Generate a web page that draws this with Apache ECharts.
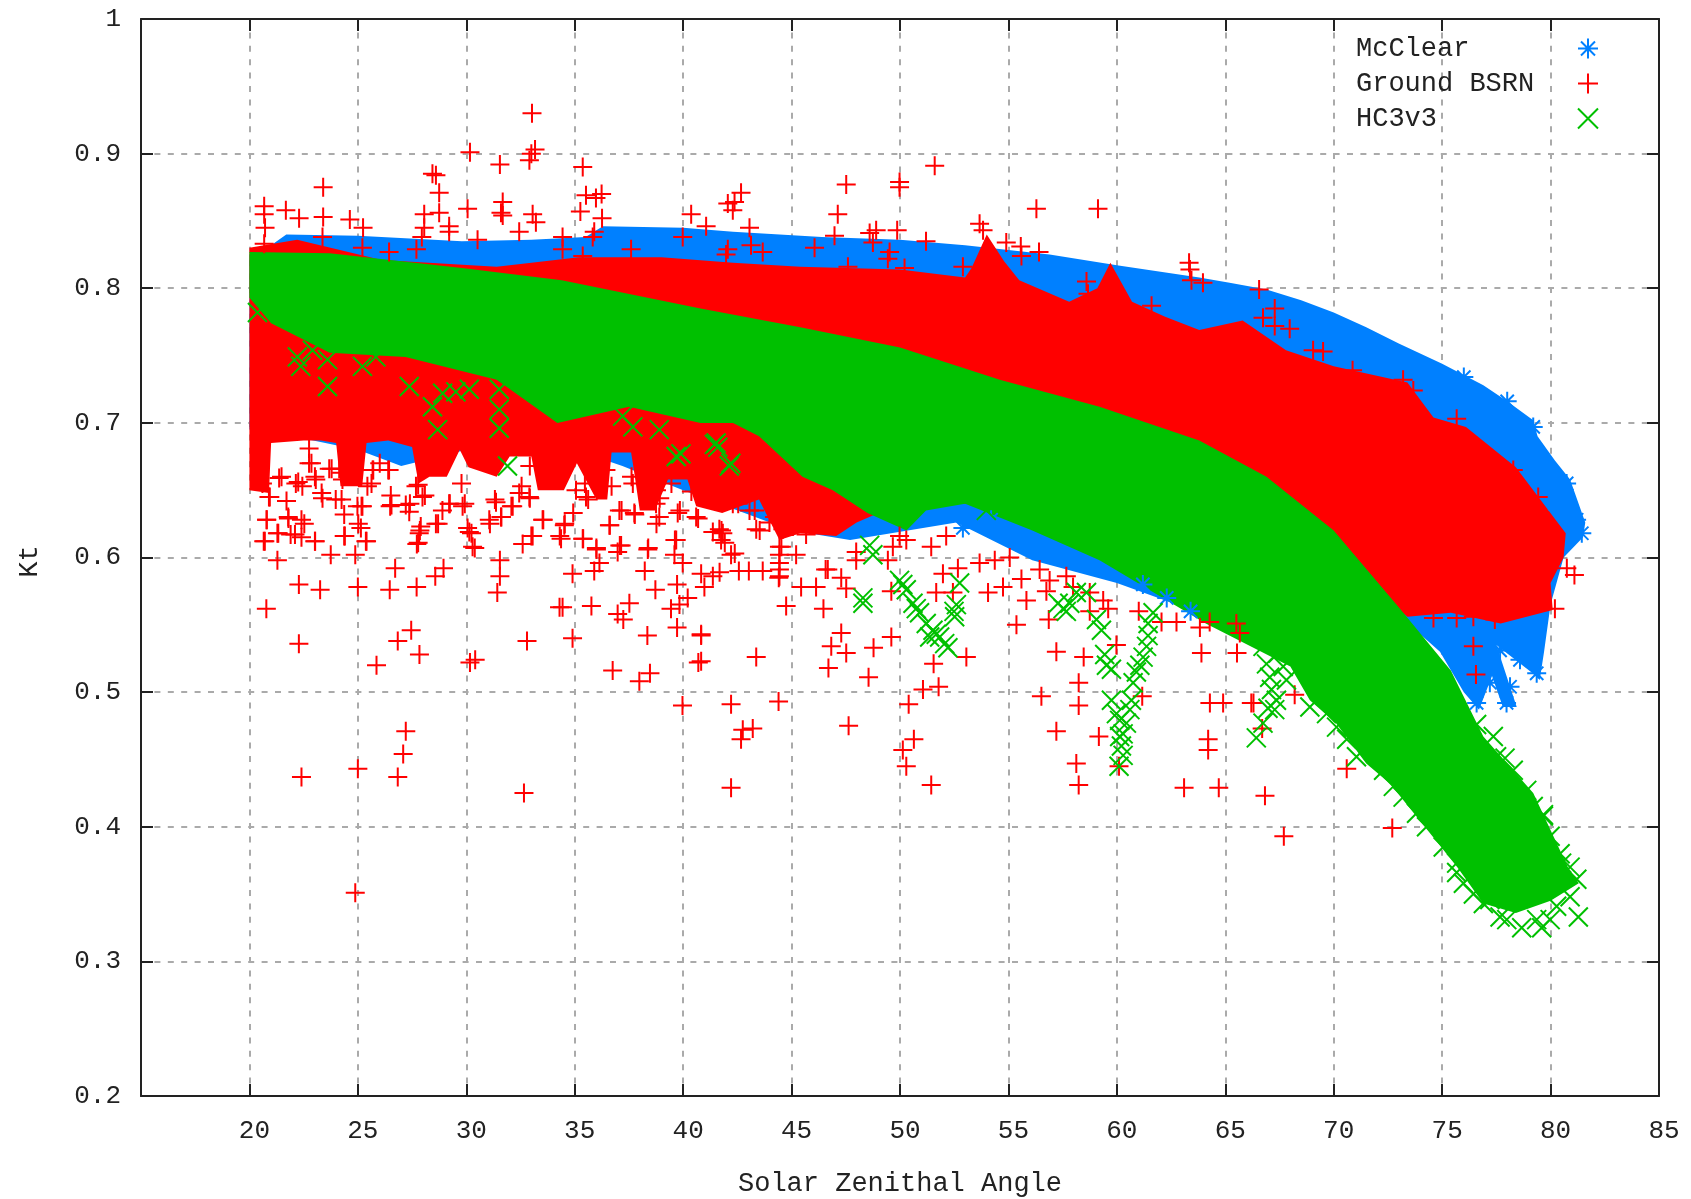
<!DOCTYPE html>
<html>
<head>
<meta charset="utf-8">
<title>Kt vs Solar Zenithal Angle</title>
<style>html,body{margin:0;padding:0;background:#fff}#chart{width:1691px;height:1199px}</style>
<script src="https://cdn.jsdelivr.net/npm/echarts@6/dist/echarts.min.js"></script>
</head>
<body>
<div id="chart"></div>
<script>
// outlines of the solid masses: [angle, kt]
var mcclearEdge = [[20,.825],[21,.832],[21.7,.84],[25,.839],[29.8,.835],[33,.836],[35.5,.838],[36.3,.846],[40,.845],[42.3,.842],
    [46.4,.838],[50,.836],[53,.832],[56.9,.825],[60,.817],[63.8,.808],[65.2,.804],[66.9,.799],[68.5,.791],[70,.782],[71.5,.771],[73,.759],[75,.744],[76.9,.728],
    [78,.716],[79.2,.702],[79.4,.69],[80.2,.672],[80.9,.658],[81.6,.626],[81.5,.615],[80.6,.6],[80,.565],[79.7,.53],[79.5,.509],[79.1,.515],[77.5,.535],
    [78.44,.489],[77.8,.489],[77.3,.512],[76.7,.487],[76,.5],[74.9,.53],[70,.6],[63.8,.559],[60,.581],[56.1,.598],[52.6,.626],
    [47.7,.613],[45,.62],[40,.65],[37.2,.668],[35,.68],[30,.68],[27,.668],[25,.68],[22,.69],[20,.695]];
var groundEdge = [[20,.83],[22.2,.836],[26.1,.821],[31.4,.816],[35.2,.823],[39,.823],[42.3,.819],[45.4,.816],[50,.814],[53,.808],
    [53.3,.815],[54,.84],[54.8,.82],[55.5,.806],[57.8,.79],[59.1,.8],[59.7,.819],[60.7,.79],[62.2,.779],[63.8,.769],[65.8,.776],
    [67.8,.754],[70,.742],[73.4,.73],[74.6,.704],[76.1,.697],[78.4,.667],[80.7,.618],[80.6,.6],[80,.581],[80.1,.561],[77.7,.551],
    [75.4,.559],[73.4,.556],[70,.6],[60,.64],[50,.64],[48,.626],[47.06,.616],[45.4,.618],[44.44,.613],[43.5,.643],[41.8,.633],
    [40.6,.638],[40.2,.658],[39.3,.658],[38.7,.635],[38,.635],[37.7,.668],[37.6,.678],[36.7,.678],[36.5,.643],[36,.643],[35.1,.67],[34.5,.65],[33.3,.65],
    [33,.675],[32,.675],[31.4,.66],[30.1,.667],[29.7,.68],[29.1,.66],[28.3,.66],[27.8,.655],[27.5,.682],[26.4,.687],[25.4,.685],
    [25.2,.653],[24.2,.653],[24,.685],[23.3,.687],[22.5,.687],[21,.685],[20.9,.648],[20,.65]];
var hc3Edge = [[20,.827],[23.7,.826],[29.8,.815],[34.4,.806],[40.8,.785],[45.4,.771],[50,.756],[54.6,.732],[59.2,.712],[63.8,.687],
    [66.9,.66],[70,.62],[73,.563],[75.4,.516],[76.9,.467],[79.2,.425],[80.8,.37],[81.3,.358],[80,.345],[78.4,.336],[76.9,.343],
    [75.7,.37],[74.6,.392],[72.6,.432],[71.5,.447],[70.1,.477],[68.9,.494],[68,.519],[64.1,.551],[59.2,.598],[56.1,.62],[53,.64],
    [51.2,.635],[50.3,.62],[48.5,.633],[46.9,.65],[45.5,.66],[43.5,.69],[42.3,.7],[40.8,.7],[37.5,.712],[34.2,.7],[31.4,.732],
    [27.2,.749],[23.7,.752],[21,.774],[20,.793]];

// single marks standing out of the masses
var mcclearPoints = [[81.44,.618],[81.2,.628],[80.74,.655],[79.2,.697],[79.36,.514],[77.97,.492],[76.59,.492],[77.67,.531],[78.59,.524],
    [79.2,.549],[77.2,.507],[78.13,.504],[80.2,.64],[78,.716],[76,.734],[52.9,.622],[54.2,.628],[55.6,.61],[57.4,.6],[61.2,.58],[62.3,.57],[63.4,.56]];
var groundPoints = [[20.78,.562],[22.28,.58],[22.28,.536],[23.26,.576],[25,.578],[26.47,.576],[27.71,.578],[26.72,.592],[28.57,.586],[28.95,.592],
    [21.29,.598],[23.75,.602],[24.88,.602],[20.66,.612],[21.29,.618],[21.9,.617],[22.4,.615],[23.03,.612],[24.37,.616],[25.37,.612],
    [25.14,.622],[20.8,.628],[21.8,.629],[22.4,.628],[31.55,.598],[31.55,.586],[31.43,.574],[32.8,.538],[34.9,.588],[34.9,.54],
    [34.44,.563],[34.3,.563],[35.77,.564],[36.98,.558],[37.52,.566],[37.24,.554],[38.35,.542],[39.72,.548],[40.83,.542],[40.7,.522],
    [36.75,.516],[37.98,.508],[38.47,.514],[39.97,.49],[38.72,.576],[39.72,.58],[38.23,.59],[39.44,.562],[39.83,.565],[40.21,.57],
    [40.83,.588],[40.98,.578],[41.37,.586],[41.68,.589],[39.98,.596],[39.6,.602],[39.68,.613],[35.9,.59],[36.14,.596],[35.37,.614],
    [36,.606],[37.14,.609],[36.98,.604],[38.37,.606],[34.37,.614],[33.06,.616],[32.6,.61],[33.52,.628],[36.6,.624],[34.52,.624],
    [30.29,.608],[30.14,.619],[27.72,.61],[27.83,.618],[27.9,.623],[28.6,.625],[30.06,.622],[27.21,.471],[27.09,.454],[26.84,.437],
    [22.4,.437],[25,.443],[24.88,.351],[32.66,.425],[26.84,.538],[27.46,.546],[27.84,.528],[25.86,.52],[30.17,.522],[30.41,.524],
    [33.03,.93],[30.17,.901],[31.55,.892],[33.17,.903],[32.91,.895],[33,.9],[35.37,.89],[28.44,.885],[28.6,.884],[23.4,.875],
    [28.75,.871],[31.68,.864],[35.52,.869],[36.24,.87],[35.98,.867],[20.68,.861],[21.68,.858],[30.06,.859],[28.75,.856],[31.6,.856],
    [31.68,.854],[33.06,.855],[35.26,.857],[40.37,.855],[20.68,.855],[22.29,.852],[23.4,.853],[24.63,.851],[28.06,.855],[33.21,.849],
    [36.26,.852],[25.24,.845],[20.72,.845],[29.21,.846],[29.21,.842],[28.06,.845],[27.95,.838],[32.44,.842],[41.06,.846],[39.98,.838],
    [35.83,.838],[34.44,.838],[23.37,.838],[20.68,.833],[25.21,.83],[26.44,.827],[27.7,.829],[30.52,.836],[35.37,.824],[37.6,.829],
    [34.44,.829],[35.9,.842],[42.37,.864],[42.67,.871],[42.06,.863],[42.29,.858],[47.52,.877],[49.98,.879],[49.98,.875],[51.6,.891],
    [47.13,.855],[43.06,.845],[48.6,.841],[48.9,.843],[49.87,.843],[46.98,.839],[51.2,.835],[53.67,.848],[53.83,.843],[54.9,.834],
    [55.57,.831],[56.41,.827],[55.6,.824],[56.29,.859],[59.13,.859],[63.33,.819],[63.44,.806],[63.37,.814],[42.06,.829],[43.13,.832],
    [41.98,.825],[43.67,.827],[46.06,.83],[49.52,.827],[49.44,.822],[47.6,.816],[48.75,.834],[50.21,.815],[58.6,.805],[58.67,.796],
    [61.6,.787],[52.9,.816],[42.21,.491],[44.4,.493],[47.63,.475],[42.75,.472],[42.67,.465],[43.21,.473],[42.21,.429],[43.37,.526],
    [40.83,.543],[40.83,.523],[44.75,.564],[42.57,.59],[43.03,.59],[43.67,.59],[44.41,.585],[45.21,.602],[42.21,.602],[41.67,.621],
    [41.75,.613],[43.37,.621],[45.44,.578],[46.13,.578],[46.47,.562],[46.57,.591],[46.67,.591],[47.29,.585],[47.52,.577],[47.29,.544],
    [46.83,.534],[47.52,.529],[46.7,.518],[48.78,.533],[48.55,.511],[49.6,.541],[49.6,.575],[50.4,.491],[51.06,.502],[51.78,.504],
    [50.64,.465],[50.13,.457],[50.29,.445],[51.44,.431],[51.55,.521],[53.06,.526],[51.67,.574],[52.44,.574],[52.67,.592],[53.67,.596],
    [51.98,.588],[55.06,.6],[54.06,.574],[54.75,.578],[55.6,.584],[55.83,.568],[55.37,.55],[56.75,.575],[56.86,.554],[57.21,.53],
    [58.47,.526],[58.24,.507],[56.52,.497],[58.24,.49],[57.21,.471],[59.17,.467],[58.13,.447],[58.24,.431],[60.1,.445],[59.98,.535],
    [61.17,.497],[63.1,.429],[63.9,.529],[63.83,.548],[62.75,.552],[62.06,.552],[61.01,.56],[59.6,.562],[58.75,.56],[64.7,.429],
    [64.29,.492],[64.21,.465],[64.21,.457],[64.9,.492],[66.83,.423],[67.7,.393],[70.6,.443],[72.7,.399],[66.3,.492],[66.7,.473],
    [81.1,.587],[80.75,.592],[76.44,.534],[76.56,.513],[64.28,.552],[65.51,.551],[65.54,.529],[65.67,.544],[68.2,.498],[66.2,.492],
    [66.56,.799],[67.28,.785],[66.74,.778],[67.97,.77],[67.28,.772],[69.05,.754],[69.51,.753],[70.87,.739],[73.2,.732],[75.67,.703],
    [73.67,.724],[79.43,.645],[78.28,.665],[74.6,.555],[76.44,.556],[77.43,.554],[75.67,.555],[80.2,.562],[63.97,.804],
    [22.75,.67],[22.44,.653],[23.06,.658],[23.37,.644],[23.98,.643],[24.37,.632],[24.98,.638],[25.44,.653],[25.68,.665],[26.44,.665],
    [26.52,.646],[26.49,.638],[27.21,.639],[27.98,.645],[27.37,.634],[27.68,.653],[29.21,.64],[29.83,.638],[28.9,.635],[31.37,.641],
    [32.14,.638],[31.6,.63],[31.06,.628],[32.44,.648],[32.91,.645],[35.06,.65],[35.52,.645],[36.44,.665],[37.68,.655],[37.06,.635],
    [37.75,.633],[38.75,.64],[38.9,.63],[39.75,.633],[40.6,.63],[41.83,.618],[41.37,.619],[41.83,.643],[20.9,.645],[21.37,.659],
    [22.14,.655],[20.6,.655],[24.29,.658],[23.68,.666],[24.14,.666],[22.75,.681],[25.21,.638],[44.44,.602],[44.44,.608],[44.44,.596],
    [44.44,.591],[44.44,.586],[44.21,.63],[44.83,.63],[45.06,.623],[43.98,.626],[44.6,.621],[45.67,.617],[46.29,.635],[42.29,.64],
    [43.06,.635],[47.98,.598],[47.98,.604],[49.44,.598],[49.98,.616],[50.29,.613],[49.67,.608],[52.13,.616],[51.44,.608],[54.37,.598],
    [56.44,.591],[56.9,.583],[57.98,.578],[58.75,.574],[59.37,.568],[57.67,.586],
    [21.48,.66],[22.25,.656],[22.86,.67],[23.02,.66],[23.33,.648],[23.79,.666],[24.25,.663],[24.25,.643],[24.71,.675],[25.17,.638],
    [25.02,.625],[25.71,.665],[26.4,.665],[26.01,.67],[25.63,.655],[26.55,.639],[27.4,.64],[27.78,.654],[28.09,.646],[27.86,.62],
    [27.78,.611],[28.7,.625],[29.24,.64],[29.93,.64],[29.78,.655],[30.24,.618],[30.39,.607],[31.32,.643],[31.09,.625],[31.62,.63],
    [32.08,.638],[32.55,.653],[20.94,.645],[21.71,.642],[20.79,.628],[21.79,.63],[21.33,.618],[20.71,.612],[22.1,.617],[22.53,.625],
    [23.02,.612],[24.4,.616],[25.4,.612],[32.93,.644],[33.55,.628],[33,.616],[34.31,.616],[34.54,.625],[35.39,.614],[34.93,.633],
    [35.62,.643],[36.62,.624],[36,.607],[37.08,.609],[37.16,.635],[37.77,.632],[38.39,.607],[38.77,.625],[38.92,.644],[39.62,.613],
    [39.85,.635],[40.69,.629],[41.77,.62],[41.92,.611],[42.54,.64],[43.3,.635],[43.53,.62],[44.53,.642],[44.84,.623],[44.53,.608],
    [43.46,.651],[40.38,.649],[41.08,.65],[42.38,.603],[39.46,.655],[38.77,.65],[35.47,.655],[37.62,.66],[36.7,.653],[32.93,.668]];
var hc3Points = [[48.29,.566],[48.29,.57],[48.75,.602],[48.6,.609],[49.98,.583],[50.29,.576],[50.6,.566],[50.9,.559],[51.21,.551],[51.52,.546],
    [51.83,.541],[52.06,.536],[52.21,.533],[51.67,.543],[51.37,.541],[50.75,.562],[50.13,.58],[52.49,.56],[52.52,.556],[52.6,.565],
    [52.75,.581],[57.52,.562],[57.67,.56],[57.83,.566],[57.29,.566],[58.6,.574],[58.13,.574],[59.29,.546],[59.06,.554],[59.44,.528],
    [59.75,.517],[59.52,.52],[59.75,.494],[59.98,.484],[60.13,.479],[60.13,.467],[60.21,.46],[60.29,.453],[60.1,.445],[61.44,.551],
    [61.44,.542],[61.37,.534],[61.21,.526],[61.06,.52],[60.9,.515],[60.75,.507],[60.67,.494],[60.6,.487],[60.44,.477],[60.29,.469],
    [61.67,.559],[66.74,.534],[66.9,.521],[67.05,.511],[67.13,.502],[67.28,.487],[66.74,.477],[67.67,.519],[67.44,.529],[67.82,.509],
    [67.36,.494],[66.97,.488],[66.43,.466],[22.21,.749],[22.37,.742],[23.6,.747],[23.6,.727],[22.91,.754],[25.21,.742],[25.83,.749],
    [27.37,.727],[28.91,.722],[29.52,.723],[30.14,.725],[28.44,.712],[28.68,.695],[31.52,.725],[31.52,.71],[31.52,.696],[31.9,.668],
    [37.68,.697],[37.21,.705],[38.9,.695],[41.52,.685],[39.68,.675],[20.37,.782],[33.21,.729],[41.44,.684],[42.13,.668],[46.75,.67],
    [53.98,.635],[56.75,.63],[81.28,.333],[81.21,.361],[78.67,.325],[79.59,.325],[80.51,.373],[76.59,.476],[77.9,.451],[78.28,.442],
    [79.67,.409],[75.98,.358],[76.9,.343],[77.67,.333],[75.67,.366],[79.36,.331],[80.28,.341],[79.98,.373],
    [68.9,.489],[69.67,.484],[70.13,.474],[70.6,.465],[71.05,.452],[72.3,.442],[72.75,.43],[73.2,.422],[73.82,.41],[74.28,.4],
    [75.05,.385],[75.67,.373],[76.44,.35],[77.2,.346],[77.98,.331],[77.36,.467],[77.51,.452],[78.9,.427],[79.2,.415],[79.67,.408],
    [79.98,.393],[80.44,.38],[80.9,.37],[80.9,.348],[79.98,.331],[41.6,.682],[42.2,.67],[39.9,.677]];

var xTicks = [15, 85, 5];
var yTicks = [0.2, 1, 0.1];

var plusPath = 'path://M0 10H20M10 0V20';
var crossPath = 'path://M0 0L20 20M0 20L20 0';
var starPath = 'path://M0 10H20M10 0V20M3 3L17 17M3 17L17 3';

var font = 'Liberation Mono';
var ink = '#222';

var dom = document.getElementById('chart');
var myChart = echarts.init(dom);

function massSeries(name, edge, color) {
    return {
        name: name,
        type: 'custom',
        silent: true,
        coordinateSystem: 'cartesian2d',
        data: [edge[0]],
        renderItem: function (params, api) {
            return {
                type: 'polygon',
                shape: {
                    points: edge.map(function (p) { return api.coord(p); })
                },
                style: { fill: color }
            };
        }
    };
}

function pointSeries(name, points, symbol, color) {
    return {
        name: name,
        type: 'scatter',
        silent: true,
        data: points,
        symbol: symbol,
        symbolSize: 19,
        itemStyle: {
            color: 'transparent',
            borderColor: color,
            borderWidth: 2,
            opacity: 1
        }
    };
}

var option = {
    animation: false,
    backgroundColor: '#fff',
    grid: { left: 141, right: 32, top: 19, bottom: 103, outerBoundsMode: 'none' },
    legend: {
        left: 1351,
        top: 30,
        orient: 'vertical',
        align: 'right',
        itemGap: 8,
        itemWidth: 20,
        itemHeight: 20,
        data: ['McClear', 'Ground BSRN', 'HC3v3'],
        formatter: '{n|{name}}',
        textStyle: {
            rich: { n: { width: 217, align: 'left', fontFamily: font, fontSize: 27, color: ink, height: 26 } }
        }
    },
    xAxis: [{
        type: 'value',
        min: xTicks[0],
        max: xTicks[1],
        interval: xTicks[2],
        name: 'Solar Zenithal Angle',
        nameLocation: 'middle',
        nameGap: 74,
        nameTextStyle: { fontFamily: font, fontSize: 27, color: ink },
        axisLine: { onZero: false, lineStyle: { color: ink, width: 2 } },
        axisTick: { inside: true, length: 12, lineStyle: { color: ink, width: 2 } },
        axisLabel: { showMinLabel: false, margin: 22, fontFamily: font, fontSize: 26, color: ink, padding: [0, 0, 0, 10] },
        splitLine: { show: true, lineStyle: { color: '#aaa', width: 2, type: [6, 7.4] } }
    }, {
        type: 'value',
        position: 'top',
        min: xTicks[0],
        max: xTicks[1],
        interval: xTicks[2],
        axisLine: { onZero: false, lineStyle: { color: ink, width: 2 } },
        axisTick: { inside: true, length: 12, lineStyle: { color: ink, width: 2 } },
        axisLabel: { show: false },
        splitLine: { show: false }
    }],
    yAxis: [{
        type: 'value',
        min: yTicks[0],
        max: yTicks[1],
        interval: yTicks[2],
        name: 'Kt',
        nameLocation: 'middle',
        nameGap: 98,
        nameTextStyle: { fontFamily: font, fontSize: 27, color: ink, padding: [0, 8, 0, 0] },
        axisLine: { onZero: false, lineStyle: { color: ink, width: 2 } },
        axisTick: { inside: true, length: 12, lineStyle: { color: ink, width: 2 } },
        axisLabel: { margin: 20, fontFamily: font, fontSize: 26, color: ink },
        splitLine: { show: true, lineStyle: { color: '#aaa', width: 2, type: [6, 7.4] } }
    }, {
        type: 'value',
        position: 'right',
        min: yTicks[0],
        max: yTicks[1],
        interval: yTicks[2],
        axisLine: { onZero: false, lineStyle: { color: ink, width: 2 } },
        axisTick: { inside: true, length: 12, lineStyle: { color: ink, width: 2 } },
        axisLabel: { show: false },
        splitLine: { show: false }
    }],
    series: [
        massSeries('McClear mass', mcclearEdge, '#0080ff'),
        pointSeries('McClear', mcclearPoints, starPath, '#0080ff'),
        massSeries('Ground BSRN mass', groundEdge, '#ff0000'),
        pointSeries('Ground BSRN', groundPoints, plusPath, '#ff0000'),
        massSeries('HC3v3 mass', hc3Edge, '#00c000'),
        pointSeries('HC3v3', hc3Points, crossPath, '#00c000')
    ]
};

if (option && typeof option === "object") {
    myChart.setOption(option, true);
}
</script>
</body>
</html>
